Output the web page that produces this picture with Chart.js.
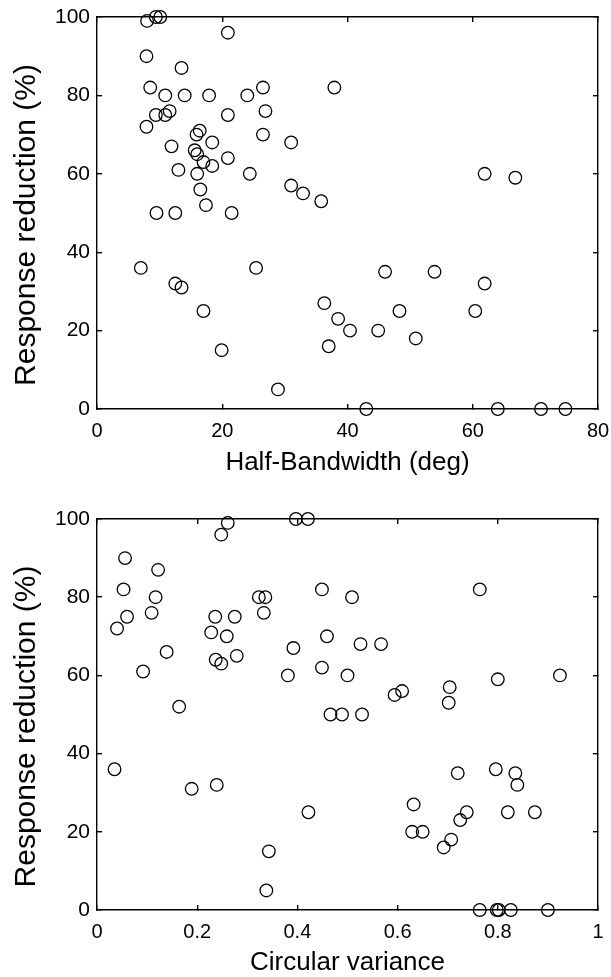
<!DOCTYPE html>
<html>
<head>
<meta charset="utf-8">
<script src="https://cdn.jsdelivr.net/npm/chart.js@4"></script>
<style>
body { margin: 0; background: #fff; }
canvas { display: block; }
</style>
</head>
<body>
<canvas id="top" width="611" height="488"></canvas>
<canvas id="bottom" width="611" height="489"></canvas>
<script>
// top panel: half-bandwidth (deg) vs response reduction (%)
const bandwidth = [8, 9.4, 10.1, 20.9, 7.9, 13.5, 8.5, 10.9, 14, 17.9, 24, 26.5, 26.9,
	9.4, 10.9, 11.6, 20.9, 7.9, 16.4, 15.9, 26.5, 31, 18.4, 11.9, 15.6, 16, 17, 18.4,
	20.9, 13, 16, 24.4, 16.5, 31, 32.9, 17.4, 9.5, 12.5, 21.5, 37.9, 61.9, 66.8, 35.8,
	7, 12.5, 13.5, 17, 19.9, 28.9, 25.4, 46, 53.9, 61.9, 36.3, 48.3, 60.4, 38.5, 40.4,
	44.9, 50.9, 37, 43, 64, 70.9, 74.8];
const reductionA = [99, 100, 100, 96, 90, 87, 82, 80, 80, 80, 80, 82, 76,
	75, 75, 76, 75, 72, 71, 70, 70, 68, 68, 67, 66, 65, 63, 62,
	64, 61, 60, 60, 56, 57, 55, 52, 50, 50, 50, 82, 60, 59, 53,
	36, 32, 31, 25, 15, 5, 36, 35, 35, 32, 27, 25, 25, 23, 20,
	20, 18, 16, 0, 0, 0, 0];

// bottom panel: circular variance vs response reduction (%)
const circVar = [0.04, 0.056, 0.053, 0.06, 0.092, 0.109, 0.117, 0.122, 0.139, 0.164,
	0.228, 0.236, 0.237, 0.248, 0.248, 0.261, 0.259, 0.275, 0.279, 0.323, 0.336, 0.333,
	0.381, 0.392, 0.397, 0.421, 0.449, 0.509, 0.764, 0.459, 0.526, 0.567, 0.449, 0.5,
	0.8, 0.924, 0.594, 0.609, 0.704, 0.702, 0.466, 0.489, 0.529, 0.035, 0.189, 0.239,
	0.343, 0.338, 0.422, 0.72, 0.796, 0.835, 0.839, 0.632, 0.738, 0.82, 0.874, 0.725,
	0.629, 0.65, 0.707, 0.692, 0.764, 0.798, 0.802, 0.826, 0.9];
const reductionB = [72, 90, 82, 75, 61, 76, 80, 87, 66, 52,
	71, 75, 64, 63, 96, 99, 70, 75, 65, 80, 80, 76,
	60, 67, 100, 100, 82, 80, 82, 70, 68, 68, 62, 60,
	59, 60, 55, 56, 57, 53, 50, 50, 50, 36, 31, 32,
	15, 5, 25, 35, 36, 35, 32, 27, 25, 25, 25, 23,
	20, 20, 18, 16, 0, 0, 0, 0, 0];

const yTicks = [0, 20, 40, 60, 80, 100];
const xTicksA = [0, 20, 40, 60, 80];
const xTicksB = [0, 0.2, 0.4, 0.6, 0.8, 1];

const family = '"Liberation Sans", Arial, Helvetica, sans-serif';
const yTitle = 'Response reduction (%)';

// y title drawn by hand so it can sit a little below the middle like the original
const sideTitle = {
	id: 'sideTitle',
	afterDraw(chart, args, opts) {
		const ctx = chart.ctx, a = chart.chartArea;
		ctx.save();
		ctx.font = '30px ' + family;
		ctx.fillStyle = '#000';
		ctx.textAlign = 'center';
		ctx.textBaseline = 'middle';
		ctx.translate(opts.x, (a.top + a.bottom) / 2 + opts.shift);
		ctx.rotate(-Math.PI / 2);
		ctx.fillText(opts.text, 0, 0);
		ctx.restore();
	}
};

// pin a scale's size and stop it asking the layout for room for overhanging labels
const pin = (prop, v) => (s) => {
	s[prop] = v;
	s.paddingLeft = s.paddingRight = s.paddingTop = s.paddingBottom = 0;
};

function scatter(id, xs, ys, xTicks, xMax, xTitle, area)
{
	const ticksFrom = (arr) => (s) => { s.ticks = arr.map(v => ({value: v})); };
	const grid = {drawOnChartArea: false, drawTicks: true, tickLength: -5, color: '#000', lineWidth: 1.4};
	const border = {display: true, color: '#000', width: 1.4};
	const hidden = {display: false};

	new Chart(document.getElementById(id), {
		type: 'scatter',
		data: {
			datasets: [{
				data: xs.map((x, i) => ({x: x, y: ys[i]})),
				pointStyle: 'circle',
				pointRadius: 6.3,
				pointHoverRadius: 6.3,
				pointBorderWidth: 1.3,
				pointBorderColor: '#000',
				pointBackgroundColor: 'rgba(0,0,0,0)',
				clip: false
			}]
		},
		options: {
			responsive: false,
			animation: false,
			events: [],
			layout: {padding: 0},
			plugins: {
				legend: {display: false},
				tooltip: {enabled: false},
				sideTitle: {text: yTitle, x: 26.5, shift: 12}
			},
			scales: {
				x: {
					type: 'linear', position: 'bottom', min: 0, max: xMax,
					afterBuildTicks: ticksFrom(xTicks),
					afterFit: pin('height', area.h - area.bottom),
					grid: grid, border: border,
					ticks: {color: '#000', padding: 15, maxRotation: 0,
						callback: (v) => String(v), font: {family: family, size: 20}},
					title: {display: true, text: xTitle, color: '#000',
						font: {family: family, size: 26, lineHeight: 1},
						padding: {top: 0, bottom: area.tp}}
				},
				x2: {
					type: 'linear', position: 'top', min: 0, max: xMax,
					afterBuildTicks: ticksFrom(xTicks),
					afterFit: pin('height', area.top),
					grid: grid, border: border, ticks: hidden
				},
				y: {
					type: 'linear', position: 'left', min: 0, max: 100,
					afterBuildTicks: ticksFrom(yTicks),
					afterFit: pin('width', 97),
					grid: grid, border: border,
					ticks: {color: '#000', padding: 12, callback: (v) => String(v),
						font: {family: family, size: 21}}
				},
				y2: {
					type: 'linear', position: 'right', min: 0, max: 100,
					afterBuildTicks: ticksFrom(yTicks),
					afterFit: pin('width', 13),
					grid: grid, border: border, ticks: hidden
				}
			}
		},
		plugins: [sideTitle]
	});
}

scatter('top', bandwidth, reductionA, xTicksA, 80, 'Half-Bandwidth (deg)',
	{h: 488, top: 17, bottom: 409, tp: 12});
scatter('bottom', circVar, reductionB, xTicksB, 1, 'Circular variance',
	{h: 489, top: 31, bottom: 422, tp: 1.5});
</script>
</body>
</html>
